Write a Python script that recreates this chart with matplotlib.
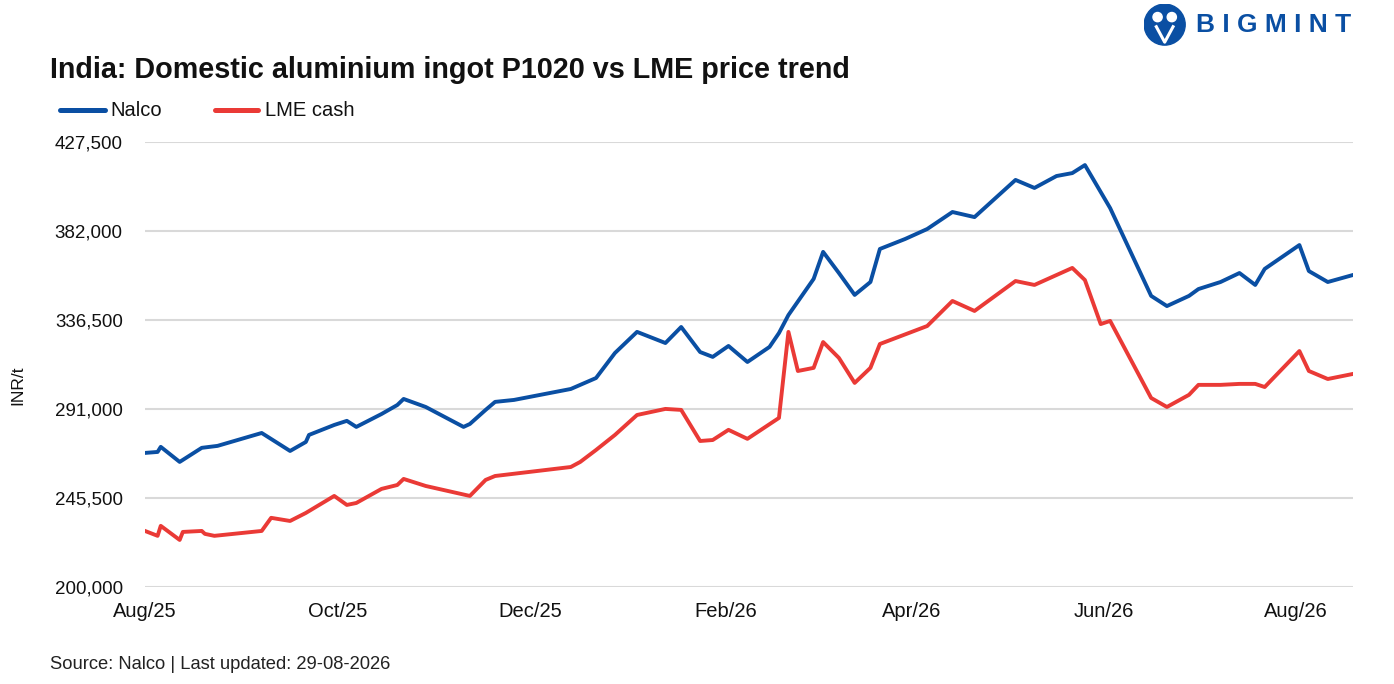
import matplotlib
matplotlib.use("Agg")
import matplotlib.pyplot as plt
import matplotlib.dates as mdates
from matplotlib.patches import Circle
from matplotlib.lines import Line2D
import pandas as pd

plt.rcParams['font.family'] = ['Liberation Sans', 'DejaVu Sans']

# Nalco domestic ingot price (INR/t)
nalco_dates = [
    '2025-08-01', '2025-08-05', '2025-08-06', '2025-08-12', '2025-08-19', '2025-08-24',
    '2025-09-07', '2025-09-16', '2025-09-21', '2025-09-22', '2025-09-30', '2025-10-04',
    '2025-10-07', '2025-10-15', '2025-10-20', '2025-10-22', '2025-10-29', '2025-11-10',
    '2025-11-12', '2025-11-17', '2025-11-20', '2025-11-26', '2025-12-14', '2025-12-22',
    '2025-12-28', '2026-01-04', '2026-01-13', '2026-01-18', '2026-01-24', '2026-01-28',
    '2026-02-02', '2026-02-08', '2026-02-15', '2026-02-18', '2026-02-21', '2026-03-01',
    '2026-03-04', '2026-03-09', '2026-03-14', '2026-03-19', '2026-03-22', '2026-03-30',
    '2026-04-06', '2026-04-14', '2026-04-21', '2026-05-04', '2026-05-10', '2026-05-17',
    '2026-05-22', '2026-05-26', '2026-06-03', '2026-06-16', '2026-06-21', '2026-06-28',
    '2026-07-01', '2026-07-08', '2026-07-14', '2026-07-19', '2026-07-22', '2026-08-02',
    '2026-08-05', '2026-08-11', '2026-08-19',
]
nalco_price = [
    268500, 269000, 271600, 263900, 271100, 272100,
    278700, 269500, 274100, 277700, 282800, 284900,
    281800, 288400, 293000, 296100, 292000, 281800,
    283300, 290500, 294600, 295600, 301200, 306800,
    319600, 330400, 324700, 332900, 320100, 317600,
    323200, 315000, 322700, 329800, 339000, 357500,
    371300, 360500, 349300, 355900, 372800, 377900,
    383000, 391700, 389100, 408100, 404000, 410100,
    411600, 415700, 393700, 348800, 343600, 348800,
    352300, 355900, 360500, 354400, 362600, 374800,
    361500, 355900, 359500,
]

# LME cash converted (INR/t)
lme_dates = [
    '2025-08-01', '2025-08-05', '2025-08-06', '2025-08-12', '2025-08-13', '2025-08-19',
    '2025-08-20', '2025-08-23', '2025-09-07', '2025-09-10', '2025-09-16', '2025-09-21',
    '2025-09-30', '2025-10-04', '2025-10-07', '2025-10-15', '2025-10-20', '2025-10-22',
    '2025-10-29', '2025-11-12', '2025-11-17', '2025-11-20', '2025-12-14', '2025-12-17',
    '2025-12-22', '2025-12-28', '2026-01-04', '2026-01-13', '2026-01-18', '2026-01-24',
    '2026-01-28', '2026-02-02', '2026-02-08', '2026-02-18', '2026-02-21', '2026-02-24',
    '2026-03-01', '2026-03-04', '2026-03-09', '2026-03-14', '2026-03-19', '2026-03-22',
    '2026-04-06', '2026-04-14', '2026-04-21', '2026-05-04', '2026-05-10', '2026-05-22',
    '2026-05-26', '2026-05-31', '2026-06-03', '2026-06-16', '2026-06-21', '2026-06-28',
    '2026-07-01', '2026-07-08', '2026-07-14', '2026-07-19', '2026-07-22', '2026-08-02',
    '2026-08-05', '2026-08-11', '2026-08-19',
]
lme_price = [
    228600, 226100, 231200, 224000, 228100, 228600,
    227100, 226100, 228600, 235300, 233700, 237800,
    246500, 241900, 242900, 250100, 252100, 255200,
    251600, 246500, 254700, 256700, 261300, 263900,
    270000, 277700, 287900, 291000, 290500, 274600,
    275100, 280300, 275700, 286400, 330400, 310400,
    312000, 325200, 317100, 304300, 312000, 324200,
    333400, 346200, 341100, 356400, 354400, 363100,
    356900, 334400, 336000, 296600, 292000, 298200,
    303300, 303300, 303800, 303800, 302200, 320600,
    310400, 306300, 308900,
]

y_ticks = [200000, 245500, 291000, 336500, 382000, 427500]
x_ticks = ['2025-08-01', '2025-10-01', '2025-12-01', '2026-02-01',
           '2026-04-01', '2026-06-01', '2026-08-01']

nalco_x = pd.to_datetime(nalco_dates)
lme_x = pd.to_datetime(lme_dates)

fig = plt.figure(figsize=(13.94, 6.84), dpi=100)
ax = fig.add_axes([0.104, 0.142, 0.8666, 0.6504])

blue = '#0a4fa3'
red = '#ea3a36'
ax.plot(nalco_x, nalco_price, color=blue, lw=2.8, solid_joinstyle='round')
ax.plot(lme_x, lme_price, color=red, lw=2.8, solid_joinstyle='round')

ax.set_ylim(y_ticks[0], y_ticks[-1])
ax.set_yticks(y_ticks)
ax.set_yticklabels([f'{v:,}' for v in y_ticks])
ax.set_xlim(nalco_x[0], nalco_x[-1])
ax.set_xticks(pd.to_datetime(x_ticks))
ax.xaxis.set_major_formatter(mdates.DateFormatter('%b/%y'))

ax.grid(axis='y', color='#d9d9d9', lw=1.5)
ax.set_axisbelow(True)
for s in ax.spines.values():
    s.set_visible(False)
ax.tick_params(axis='both', length=0, colors='#111111')
ax.tick_params(axis='y', pad=16, labelsize=13.5)
ax.tick_params(axis='x', pad=11, labelsize=14.5)
fig.text(0.013, 0.437, 'INR/t', fontsize=12.5, color='#111111', rotation=90,
         va='center', ha='center')

fig.text(0.036, 0.897, 'India: Domestic aluminium ingot P1020 vs LME price trend',
         fontsize=20.7, fontweight='bold', va='center', ha='left', color='#111111')

# legend drawn by hand to sit where the original puts it
fig.add_artist(Line2D([0.043, 0.0753], [0.839, 0.839], color=blue, lw=3.6,
                      solid_capstyle='round', transform=fig.transFigure))
fig.text(0.0789, 0.839, 'Nalco', fontsize=14.5, va='center', ha='left', color='#111111')
fig.add_artist(Line2D([0.1542, 0.1851], [0.839, 0.839], color=red, lw=3.6,
                      solid_capstyle='round', transform=fig.transFigure))
fig.text(0.190, 0.839, 'LME cash', fontsize=14.5, va='center', ha='left', color='#111111')

fig.text(0.036, 0.029, 'Source: Nalco | Last updated: 29-08-2026',
         fontsize=13.2, va='center', ha='left', color='#222222')

# BIGMINT logo
logo = fig.add_axes([0.8205, 0.933, 0.03, 0.062])
logo.set_xlim(0, 1)
logo.set_ylim(0, 1)
logo.set_aspect('equal')
logo.axis('off')
logo.add_patch(Circle((0.5, 0.5), 0.49, color=blue))
logo.add_patch(Circle((0.33, 0.68), 0.11, color='white'))
logo.add_patch(Circle((0.67, 0.68), 0.11, color='white'))
logo.plot([0.3, 0.5, 0.7], [0.45, 0.08, 0.45], color='white', lw=2.2)
fig.text(0.858, 0.963, 'B I G M I N T', fontsize=19, fontweight='bold',
         color=blue, va='center', ha='left')

fig.savefig('out.png', dpi=100)
